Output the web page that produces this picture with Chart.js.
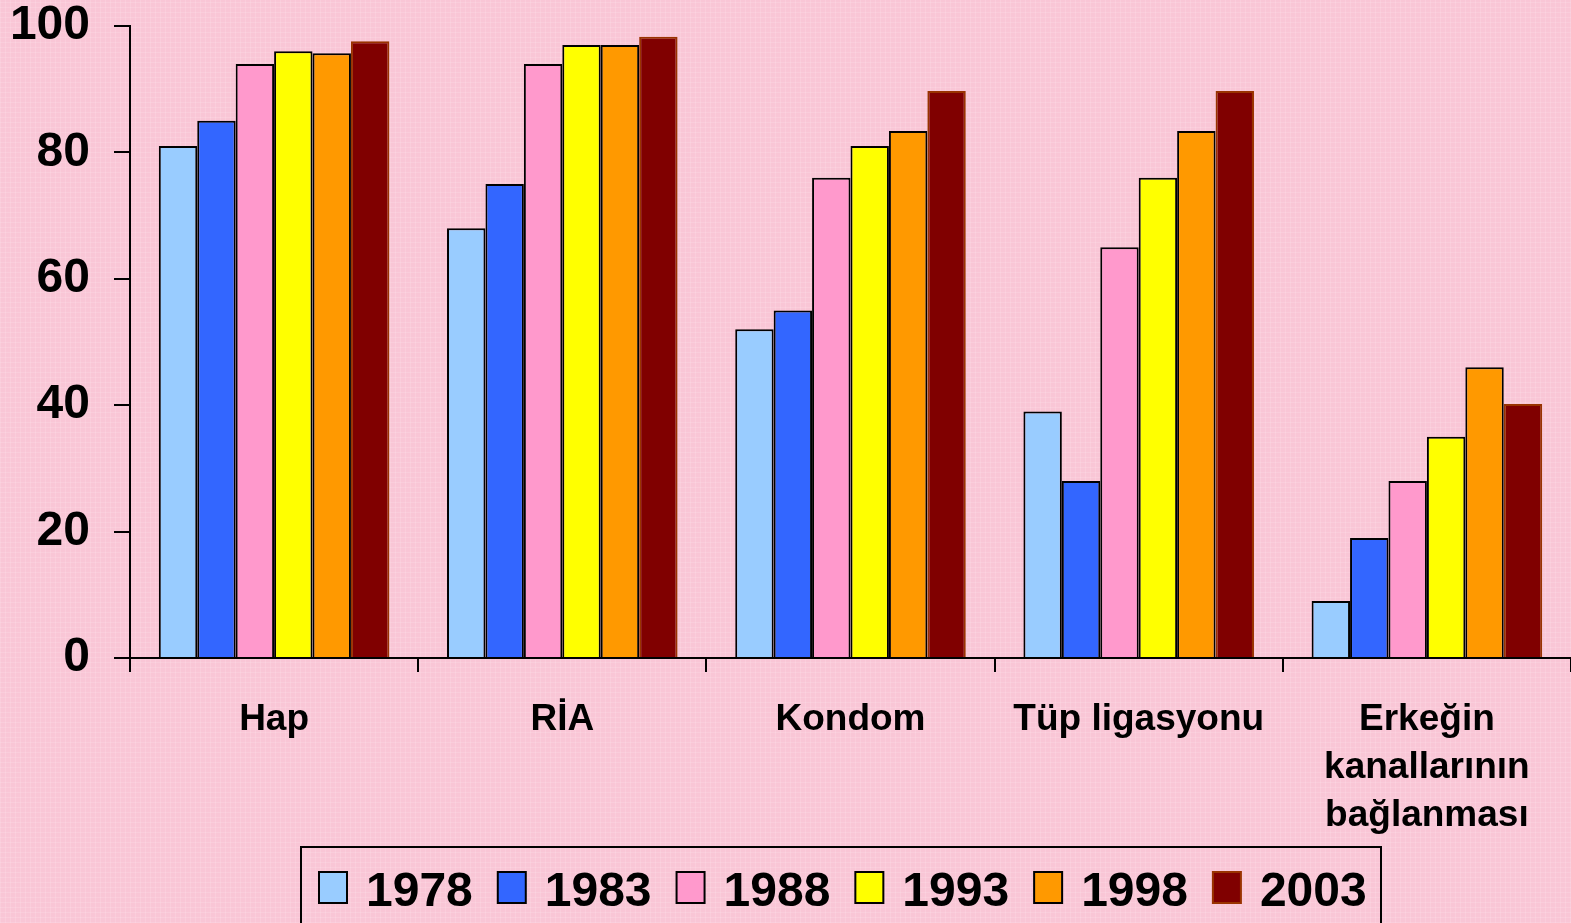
<!DOCTYPE html>
<html>
<head>
<meta charset="utf-8">
<title>Yöntem bilgisi</title>
<script src="https://cdn.jsdelivr.net/npm/chart.js@4/dist/chart.umd.min.js"></script>
<style>
    html, body {
        margin: 0;
        padding: 0;
        overflow: hidden;
    }
    body {
        width: 1571px;
        height: 923px;
        background-color: #f9c6d6;
        background-image:
            repeating-linear-gradient(0deg, rgba(255,255,255,0.13) 0 1px, transparent 1px 5px),
            repeating-linear-gradient(90deg, rgba(255,255,255,0.13) 0 1px, transparent 1px 5px);
    }
    canvas {
        display: block;
    }
</style>
</head>
<body>
<canvas id="chart" width="1571" height="923"></canvas>
<script>
// ==================== DATA ====================

const categories = [
    'Hap',
    'RİA',
    'Kondom',
    'Tüp ligasyonu',
    ['Erkeğin', 'kanallarının', 'bağlanması']
];

const years = ['1978', '1983', '1988', '1993', '1998', '2003'];

const values1978 = [81, 68, 52, 39, 9];
const values1983 = [85, 75, 55, 28, 19];
const values1988 = [94, 94, 76, 65, 28];
const values1993 = [96, 97, 81, 76, 35];
const values1998 = [95.7, 97, 83.4, 83.4, 46];
const values2003 = [97.6, 98.3, 89.7, 89.7, 40.2];

const yTicks = [0, 20, 40, 60, 80, 100];

const seriesValues = [values1978, values1983, values1988, values1993, values1998, values2003];
const fillColors = ['#99ccff', '#3366ff', '#ff99cc', '#ffff00', '#ff9900', '#800000'];
const edgeColors = ['#000000', '#000000', '#000000', '#000000', '#000000', '#993300'];

const FONT = 'Arial, "Liberation Sans", sans-serif';

// ==================== LEGEND (boxed, drawn by hand) ====================

const boxedLegend = {
    id: 'boxedLegend',
    afterDraw(chart) {
        const ctx = chart.ctx;
        ctx.save();

        // frame
        ctx.strokeStyle = '#000000';
        ctx.lineWidth = 2;
        ctx.strokeRect(301, 847, 1080, 100);

        ctx.font = 'bold 48px ' + FONT;
        ctx.textBaseline = 'alphabetic';
        ctx.textAlign = 'left';

        let x = 319;
        chart.data.datasets.forEach((ds) => {
            ctx.fillStyle = ds.backgroundColor;
            ctx.fillRect(x, 872, 28, 31);
            ctx.strokeStyle = ds.borderColor;
            ctx.lineWidth = 2;
            ctx.strokeRect(x, 872, 28, 31);

            ctx.fillStyle = '#000000';
            const tx = x + 28 + 19;
            ctx.fillText(ds.label, tx, 906);
            x = tx + ctx.measureText(ds.label).width + 25;
        });

        ctx.restore();
    }
};

// ==================== CHART ====================

const datasets = years.map((year, i) => ({
    label: year,
    data: seriesValues[i],
    backgroundColor: fillColors[i],
    borderColor: edgeColors[i],
    borderWidth: 2,
    categoryPercentage: 0.8,
    barPercentage: 1.0
}));

const ctx = document.getElementById('chart').getContext('2d');

new Chart(ctx, {
    type: 'bar',
    data: {
        labels: categories,
        datasets: datasets
    },
    options: {
        responsive: false,
        animation: false,
        layout: {
            padding: { top: 26, left: 0, right: 0, bottom: 0 }
        },
        plugins: {
            legend: { display: false },
            tooltip: { enabled: false }
        },
        scales: {
            x: {
                grid: {
                    offset: true,
                    drawOnChartArea: false,
                    drawTicks: true,
                    tickLength: 14,
                    color: '#000000',
                    lineWidth: 2
                },
                border: { display: true, color: '#000000', width: 2 },
                ticks: {
                    color: '#000000',
                    padding: 24,
                    maxRotation: 0,
                    autoSkip: false,
                    font: { family: FONT, size: 37, weight: 'bold', lineHeight: 1.3 }
                },
                afterFit(scale) {
                    scale.height = 265;
                    scale.paddingLeft = 0;
                    scale.paddingRight = 0;
                }
            },
            y: {
                min: 0,
                max: 100,
                afterBuildTicks(scale) {
                    scale.ticks = yTicks.map(v => ({ value: v }));
                },
                grid: {
                    drawOnChartArea: false,
                    drawTicks: true,
                    tickLength: 16,
                    color: '#000000',
                    lineWidth: 2
                },
                border: { display: true, color: '#000000', width: 2 },
                ticks: {
                    color: '#000000',
                    padding: 24,
                    font: { family: FONT, size: 48, weight: 'bold', lineHeight: 1 }
                },
                afterFit(scale) {
                    scale.width = 130;
                    scale.paddingTop = 0;
                    scale.paddingBottom = 0;
                }
            }
        }
    },
    plugins: [boxedLegend]
});
</script>
</body>
</html>
